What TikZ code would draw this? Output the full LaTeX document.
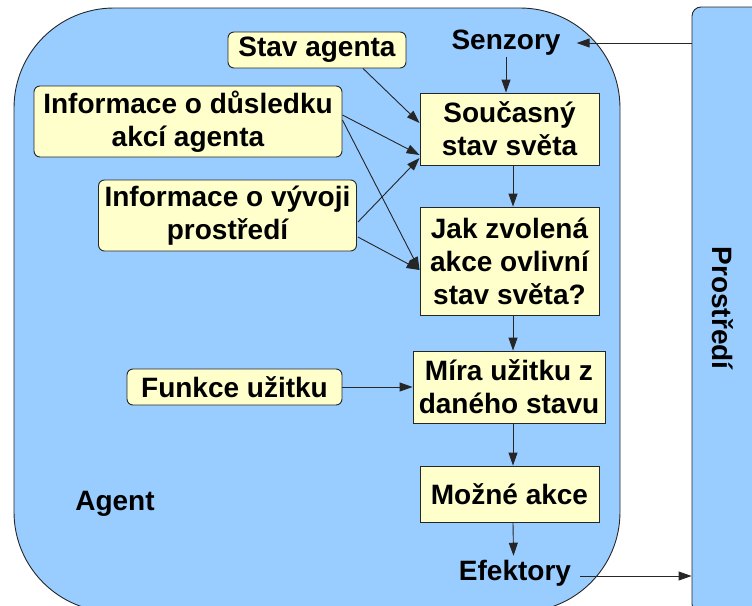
\documentclass[tikz,border=0pt]{standalone}
\usepackage{fontspec}
\setmainfont{Liberation Sans}
\usetikzlibrary{arrows.meta}
\definecolor{agentblue}{HTML}{99CCFF}
\definecolor{boxyellow}{HTML}{FFFFCC}
\definecolor{edge}{HTML}{262626}
\tikzset{
  lbl/.style={font=\fontsize{28}{33}\selectfont\bfseries, align=center, inner sep=1pt},
  panel/.style={lbl, draw=edge, line width=0.9pt, fill=boxyellow, inner sep=0pt},
  infobox/.style={panel, rounded corners=6pt},
  arr/.style={draw=edge, line width=0.9pt, -{Triangle[length=13pt,width=9pt]}}
}
\begin{document}
\begin{tikzpicture}[x=1pt,y=-1pt]
\useasboundingbox (0,0) rectangle (752,605);
\clip (0,0) rectangle (752,605);

% agent and environment
\node[draw=edge, line width=0.9pt, fill=agentblue, rounded corners=100pt,
      minimum width=606pt, minimum height=604pt, inner sep=0pt] (agentbox) at (317,310) {};
\node[draw=edge, line width=0.9pt, fill=agentblue, rounded corners=9pt,
      minimum width=90pt, minimum height=606pt, inner sep=0pt] (prostr) at (737,310) {};
\node[lbl, rotate=-90] (prostrlbl) at (723,308) {Prostředí};
\node[lbl] (agent) at (115,504) {Agent};

% sensors and effectors
\node[lbl] (senzory) at (506,43) {Senzory};
\node[lbl] (efektory) at (515,573) {Efektory};

% knowledge sources
\node[infobox, minimum width=178pt, minimum height=36pt] (stav) at (317,50) {Stav agenta};
\node[infobox, minimum width=308pt, minimum height=71pt] (dusl) at (188,121.5) {Informace o důsledku\\akcí agenta};
\node[infobox, minimum width=258pt, minimum height=71pt] (vyvoj) at (227.5,215.5) {Informace o vývoji\\prostředí};
\node[infobox, minimum width=215pt, minimum height=36pt] (funkce) at (234.5,387) {Funkce užitku};

% processing chain
\node[panel, minimum width=179pt, minimum height=72pt] (soucasny) at (509.5,129) {Současný\\stav světa};
\node[panel, minimum width=179pt, minimum height=108pt] (jak) at (509.5,261) {Jak zvolená\\akce ovlivní\\stav světa?};
\node[panel, minimum width=192pt, minimum height=72pt] (mira) at (509,387) {Míra užitku z\\daného stavu};
\node[panel, minimum width=179pt, minimum height=56pt] (mozne) at (509.5,494) {Možné akce};

% connectors
\draw[arr] (prostr.west |- senzory.east) -- ([xshift=15pt]senzory.east);
\draw[arr] (senzory.south) -- (senzory.south |- soucasny.north);
\draw[arr] ([xshift=3.5pt]soucasny.south) -- ([xshift=3.5pt]jak.north);
\draw[arr] ([xshift=3.5pt]jak.south) -- ([xshift=3.5pt]jak.south |- mira.north);
\draw[arr] ([xshift=4pt]mira.south) -- ([xshift=4pt]mira.south |- mozne.north);
\draw[arr] ([xshift=3.5pt]mozne.south) -- ([xshift=-1.5pt,yshift=3pt]efektory.north);
\draw[arr] ([xshift=8pt,yshift=-3pt]efektory.east) -- ([yshift=-3pt]efektory.east -| prostr.west);

\draw[arr] ([xshift=46pt]stav.south) -- ([yshift=6pt]soucasny.west);
\draw[arr] ([yshift=6.5pt]dusl.east) -- ([yshift=-26pt]soucasny.west);
\draw[arr] ([yshift=1.5pt]dusl.east) -- ([yshift=-9pt]jak.west);
\draw[arr] ([xshift=1pt,yshift=-6.5pt]vyvoj.east) -- ([yshift=-29pt]soucasny.west);
\draw[arr] ([xshift=1pt,yshift=-21.5pt]vyvoj.east) -- ([yshift=-9pt]jak.west);
\draw[arr] (funkce.east) -- (funkce.east -| mira.west);
\end{tikzpicture}
\end{document}
